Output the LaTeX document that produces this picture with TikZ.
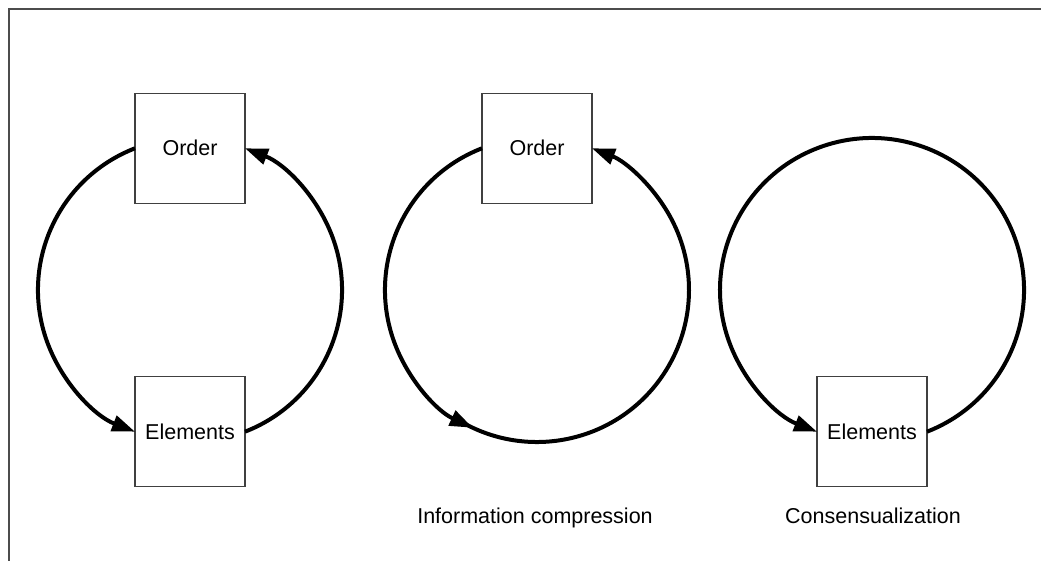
\documentclass[tikz,border=0pt]{standalone}
\usepackage{fontspec}
\setmainfont{Liberation Sans}
\usetikzlibrary{arrows.meta,calc}

\begin{document}
\begin{tikzpicture}[
  x=1pt, y=1pt,
  box/.style={rectangle, draw=black!75, line width=1.2pt, fill=white, minimum width=110pt, minimum height=110pt, inner sep=0pt, outer sep=0pt, font=\fontsize{21.5}{26}\selectfont},
  caption/.style={inner sep=0pt, font=\fontsize{21.5}{26}\selectfont},
  arrow/.style={-{Triangle[length=23pt,width=16pt]}, line width=4pt},
  frame/.style={draw=black!70, line width=1.5pt}
]

\useasboundingbox (0,0) rectangle (1041,561);

% Frame
\draw[frame] (9,0) -- (9,552) -- (1041,552);

% Circle centres
\coordinate (c1) at (190,271);
\coordinate (c2) at (537,271);
\coordinate (c3) at (872,271);
\coordinate (mid2) at ($(c2)+(245:152)$);
\coordinate (tail2) at ($(c2)+(238:152)$);

% Boxes
\node[box] (ord1) at ($(c1)+(0,141.7)$) {Order};
\node[box] (elem1) at ($(c1)+(0,-141.7)$) {Elements};
\node[box] (ord2) at ($(c2)+(0,141.7)$) {Order};
\node[box] (elem3) at ($(c3)+(0,-141.7)$) {Elements};

% Captions
\node[caption, anchor=base] (cap2) at (535,37) {Information compression};
\node[caption, anchor=base] (cap3) at (873,37) {Consensualization};

% Cycles
\draw[arrow] (ord1.west) arc[start angle=111.21, end angle=248.79, radius=152];
\draw[arrow] (elem1.east) arc[start angle=-68.79, end angle=68.79, radius=152];
\draw[arrow] (ord2.west) arc[start angle=111.21, end angle=245, radius=152];
\draw[arrow] (tail2) arc[start angle=238, end angle=428.79, radius=152];
\draw[arrow] (elem3.east) arc[start angle=-68.79, end angle=248.79, radius=152];

\end{tikzpicture}
\end{document}
